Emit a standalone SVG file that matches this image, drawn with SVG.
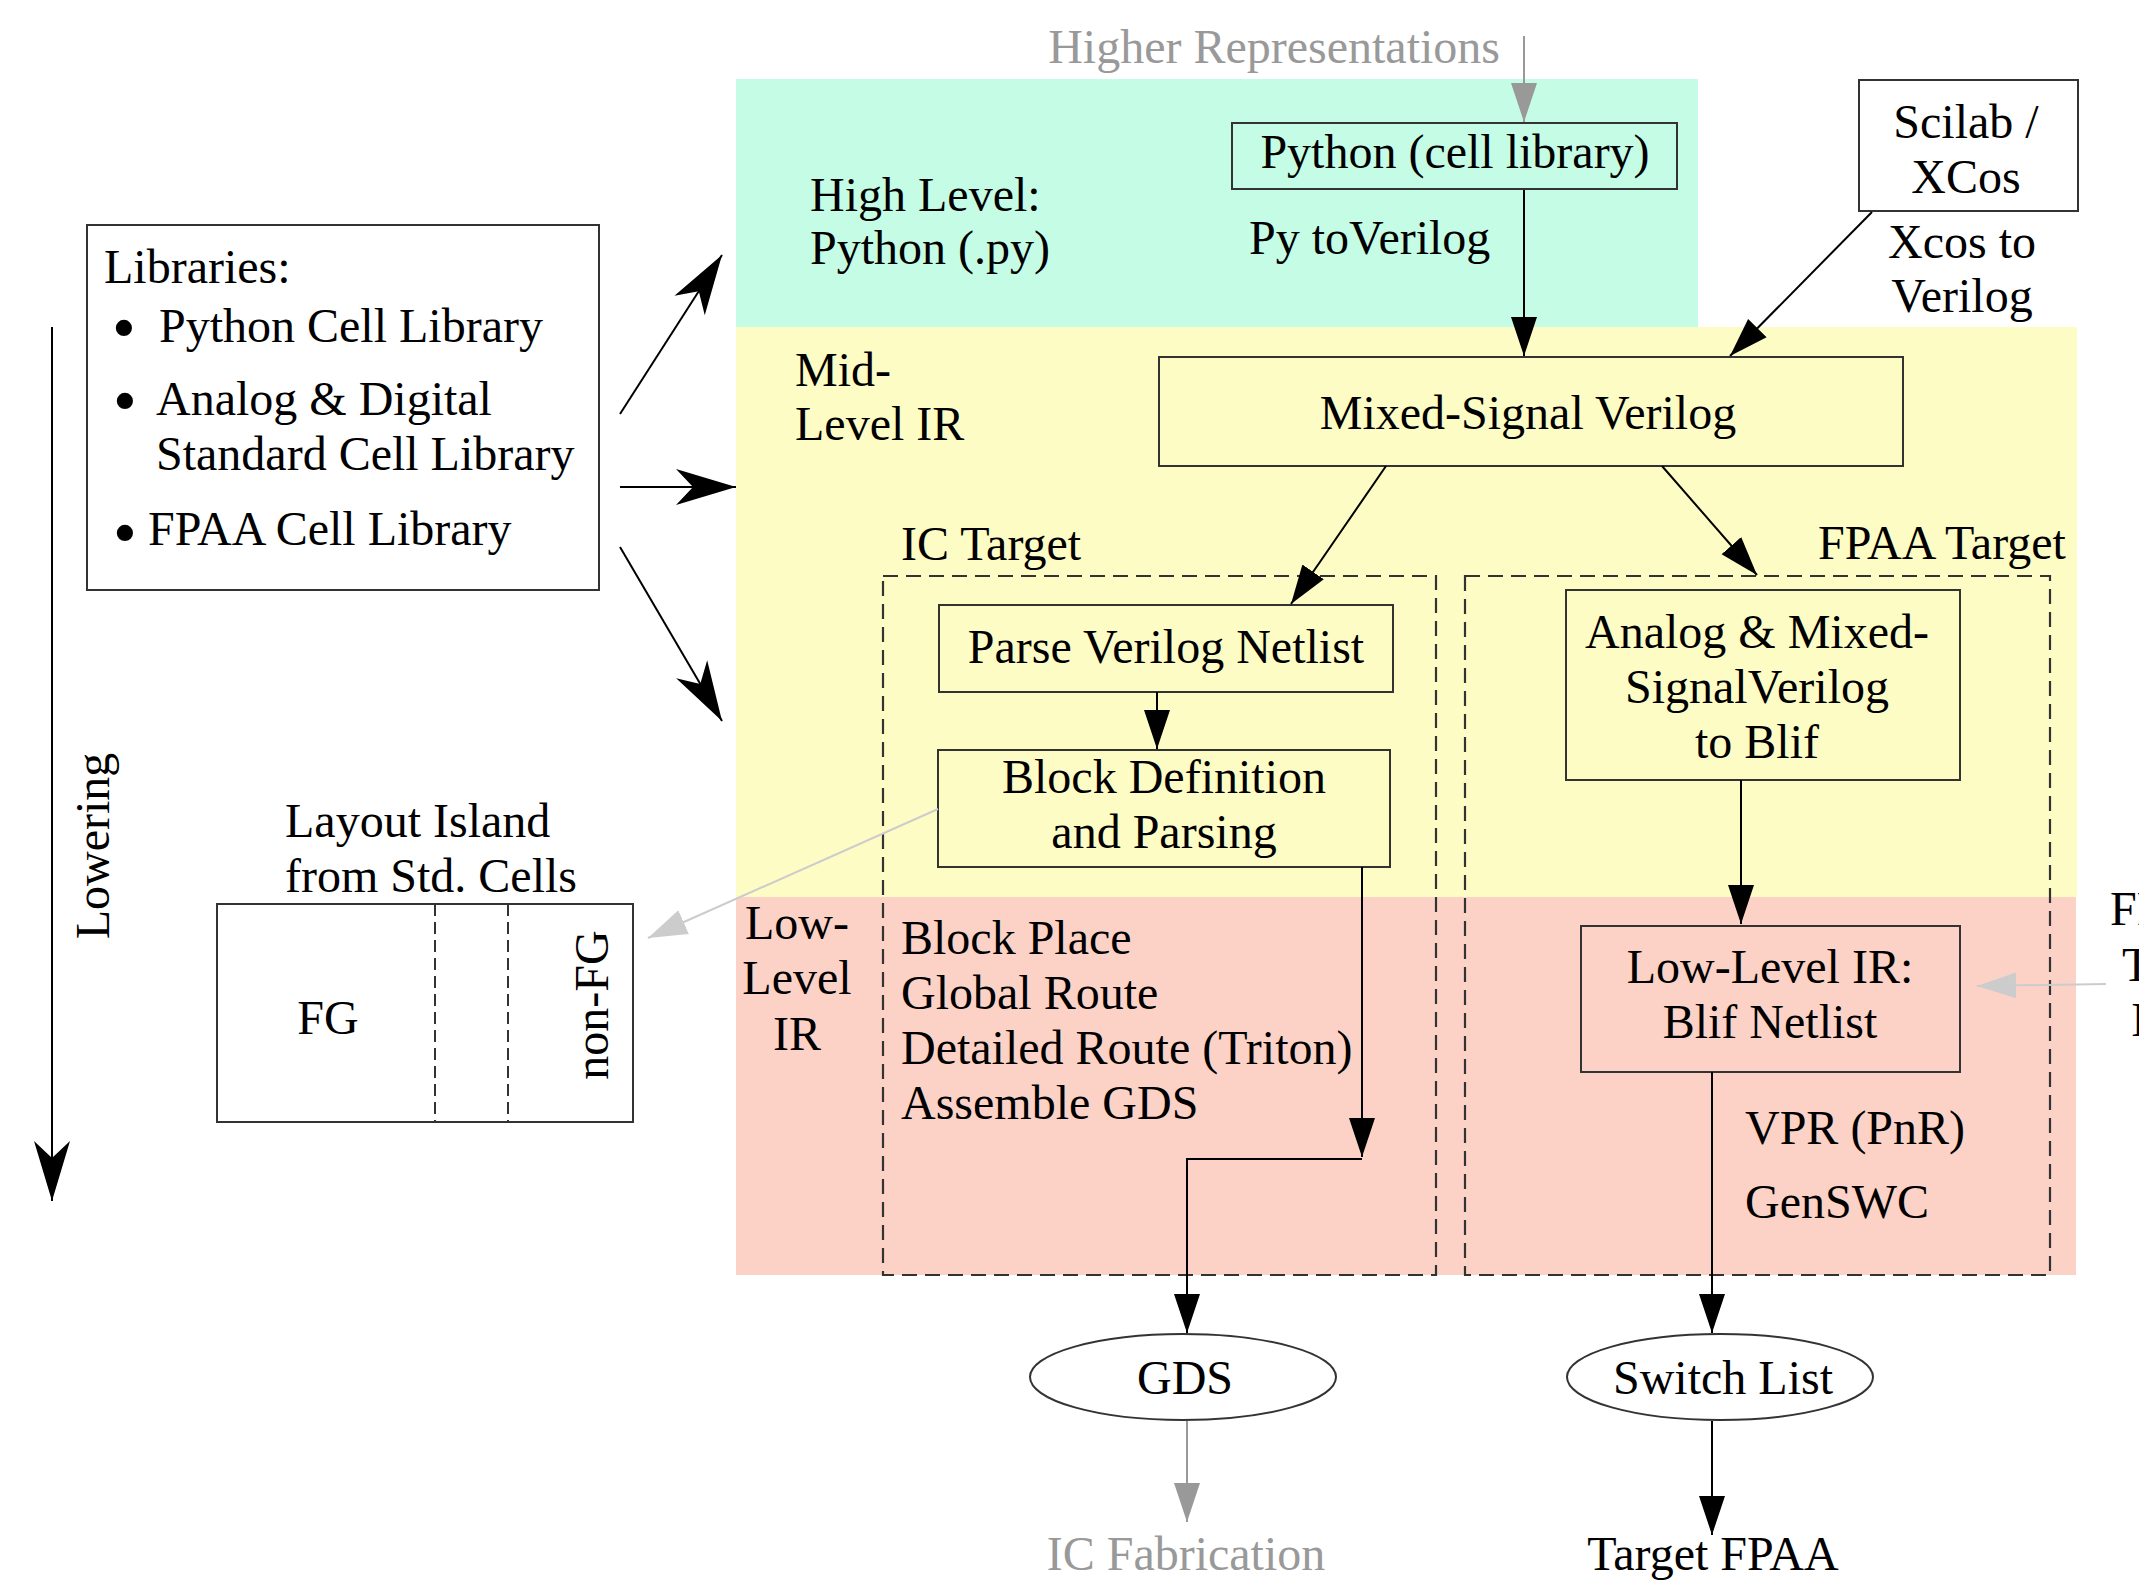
<svg xmlns="http://www.w3.org/2000/svg" width="2139" height="1589" viewBox="0 0 2139 1589">
<style>
text{font-family:"Liberation Serif","Times New Roman",serif;font-size:48px;fill:#000}
.m{text-anchor:middle}
.gt{fill:#999}
.bul{font-size:68px}
.box{fill:none;stroke:#333;stroke-width:2}
.wbox{fill:#fff;stroke:#333;stroke-width:2}
.clu{fill:none;stroke:#333;stroke-width:2.2;stroke-dasharray:15,8}
.e{fill:none;stroke:#000;stroke-width:2}
.g1{fill:none;stroke:#999;stroke-width:2}
.g2{fill:none;stroke:#ccc;stroke-width:2}
</style>
<defs>
<marker id="ah" markerUnits="userSpaceOnUse" viewBox="0 -14 40 28" markerWidth="40" markerHeight="28" refX="39" refY="0" orient="auto"><path d="M0,-13 L39,0 L0,13 Z" fill="#000"/></marker>
<marker id="ahg" markerUnits="userSpaceOnUse" viewBox="0 -14 40 28" markerWidth="40" markerHeight="28" refX="39" refY="0" orient="auto"><path d="M0,-13 L39,0 L0,13 Z" fill="#999"/></marker>
<marker id="ahl" markerUnits="userSpaceOnUse" viewBox="0 -14 40 28" markerWidth="40" markerHeight="28" refX="39" refY="0" orient="auto"><path d="M0,-13 L39,0 L0,13 Z" fill="#ccc"/></marker>
<marker id="vee" markerUnits="userSpaceOnUse" viewBox="0 -19 61 38" markerWidth="61" markerHeight="38" refX="60" refY="0" orient="auto"><path d="M0,-18 L60,0 L0,18 L17,0 Z" fill="#000"/></marker>
</defs>
<rect width="2139" height="1589" fill="#fff"/>
<g id="bands">
<rect x="736" y="79" width="962" height="248" fill="#c5fce5"/>
<rect x="736" y="327" width="1341" height="570" fill="#fefcc5"/>
<rect x="736" y="897" width="1340" height="378" fill="#fcd2c6"/>
</g>
<g id="band-labels">
<text x="810" y="211">High Level:</text>
<text x="810" y="264">Python (.py)</text>
<text x="795" y="386">Mid-</text>
<text x="795" y="440">Level IR</text>
<text class="m" x="797" y="939">Low-</text>
<text class="m" x="797" y="994">Level</text>
<text class="m" x="797" y="1050">IR</text>
</g>
<g id="ic-target">
<rect class="clu" x="883" y="576" width="553" height="699"/>
<text x="901" y="560">IC Target</text>
</g>
<g id="fpaa-target">
<rect class="clu" x="1465" y="576" width="585" height="699"/>
<text class="m" x="1942" y="559">FPAA Target</text>
</g>
<g id="higher">
<text class="gt" x="1500" y="63" text-anchor="end">Higher Representations</text>
</g>
<g id="python-cell">
<rect class="box" x="1232" y="123" width="445" height="66"/>
<text class="m" x="1455" y="168">Python (cell library)</text>
</g>
<g id="scilab">
<rect class="wbox" x="1859" y="80" width="219" height="131"/>
<text class="m" x="1966" y="138">Scilab /</text>
<text class="m" x="1966" y="193">XCos</text>
</g>
<g id="mixed">
<rect class="box" x="1159" y="357" width="744" height="109"/>
<text class="m" x="1528" y="429">Mixed-Signal Verilog</text>
</g>
<g id="libraries">
<rect class="wbox" x="87" y="225" width="512" height="365"/>
<text x="104" y="283">Libraries:</text>
<text class="bul" x="112" y="350">•</text>
<text x="159" y="342">Python Cell Library</text>
<text class="bul" x="113" y="423">•</text>
<text x="156" y="415">Analog &amp; Digital</text>
<text x="156" y="470">Standard Cell Library</text>
<text class="bul" x="113" y="555">•</text>
<text x="148" y="545">FPAA Cell Library</text>
</g>
<g id="parse">
<rect class="box" x="939" y="605" width="454" height="87"/>
<text class="m" x="1166" y="663">Parse Verilog Netlist</text>
</g>
<g id="block">
<rect class="box" x="938" y="750" width="452" height="117"/>
<text class="m" x="1164" y="793">Block Definition</text>
<text class="m" x="1164" y="848">and Parsing</text>
</g>
<g id="ic-steps">
<text x="901" y="954">Block Place</text>
<text x="901" y="1009">Global Route</text>
<text x="901" y="1064">Detailed Route (Triton)</text>
<text x="901" y="1119">Assemble GDS</text>
</g>
<g id="analog">
<rect class="box" x="1566" y="590" width="394" height="190"/>
<text class="m" x="1757" y="648">Analog &amp; Mixed-</text>
<text class="m" x="1757" y="703">SignalVerilog</text>
<text class="m" x="1757" y="758">to Blif</text>
</g>
<g id="blif">
<rect class="box" x="1581" y="926" width="379" height="146"/>
<text class="m" x="1770" y="983">Low-Level IR:</text>
<text class="m" x="1770" y="1038">Blif Netlist</text>
</g>
<g id="gds">
<ellipse class="wbox" cx="1183" cy="1377" rx="153" ry="43"/>
<text class="m" x="1185" y="1394">GDS</text>
</g>
<g id="switch">
<ellipse class="wbox" cx="1720" cy="1377" rx="153" ry="43"/>
<text class="m" x="1723" y="1394">Switch List</text>
</g>
<g id="ic-fab">
<text class="m gt" x="1186" y="1570">IC Fabrication</text>
</g>
<g id="target-fpaa">
<text class="m" x="1713" y="1570">Target FPAA</text>
</g>
<g id="layout">
<text x="285" y="837">Layout Island</text>
<text x="285" y="892">from Std. Cells</text>
<rect class="wbox" x="217" y="904" width="416" height="218"/>
<line x1="435" y1="904" x2="435" y2="1122" stroke="#333" stroke-width="2" stroke-dasharray="12,6"/>
<line x1="508" y1="904" x2="508" y2="1122" stroke="#333" stroke-width="2" stroke-dasharray="12,6"/>
<text class="m" x="328" y="1034">FG</text>
<text class="m" transform="translate(608,1005) rotate(-90)">non-FG</text>
</g>
<g id="lowering">
<text class="m" transform="translate(109,846) rotate(-90)">Lowering</text>
</g>
<g id="right-label">
<text x="2110" y="925">FP</text>
<text x="2122" y="981">T</text>
<text x="2131" y="1036">I</text>
</g>
<g id="edge-labels">
<text x="1249" y="254">Py toVerilog</text>
<text class="m" x="1962" y="258">Xcos to</text>
<text class="m" x="1962" y="312">Verilog</text>
<text x="1745" y="1144">VPR (PnR)</text>
<text x="1745" y="1218">GenSWC</text>
</g>
<g id="connectors">
<line class="g1" x1="1524" y1="36" x2="1524" y2="122" marker-end="url(#ahg)"/>
<line class="e" x1="1524" y1="190" x2="1524" y2="356" marker-end="url(#ah)"/>
<line class="e" x1="1872" y1="212" x2="1730" y2="356" marker-end="url(#ah)"/>
<line class="e" x1="1386" y1="466" x2="1291" y2="604" marker-end="url(#ah)"/>
<line class="e" x1="1662" y1="466" x2="1757" y2="575" marker-end="url(#ah)"/>
<line class="e" x1="1157" y1="692" x2="1157" y2="749" marker-end="url(#ah)"/>
<line class="e" x1="1362" y1="867" x2="1362" y2="1157" marker-end="url(#ah)"/>
<polyline class="e" points="1362,1159 1187,1159 1187,1333" marker-end="url(#ah)"/>
<line class="e" x1="1741" y1="780" x2="1741" y2="924" marker-end="url(#ah)"/>
<line class="e" x1="1712" y1="1072" x2="1712" y2="1333" marker-end="url(#ah)"/>
<line class="e" x1="1712" y1="1421" x2="1712" y2="1535" marker-end="url(#ah)"/>
<line class="g1" x1="1187" y1="1421" x2="1187" y2="1522" stroke="#aaa" marker-end="url(#ahg)"/>
<line class="g2" x1="938" y1="809" x2="648" y2="938" marker-end="url(#ahl)"/>
<line class="g2" x1="2106" y1="984" x2="1977" y2="986" marker-end="url(#ahl)"/>
<line class="e" x1="620" y1="414" x2="722" y2="255" marker-end="url(#vee)"/>
<line class="e" x1="620" y1="487" x2="736" y2="487" stroke-width="2.5" marker-end="url(#vee)"/>
<line class="e" x1="620" y1="547" x2="722" y2="721" marker-end="url(#vee)"/>
<line class="e" x1="52" y1="327" x2="52" y2="1201" marker-end="url(#vee)"/>
</g>
</svg>
